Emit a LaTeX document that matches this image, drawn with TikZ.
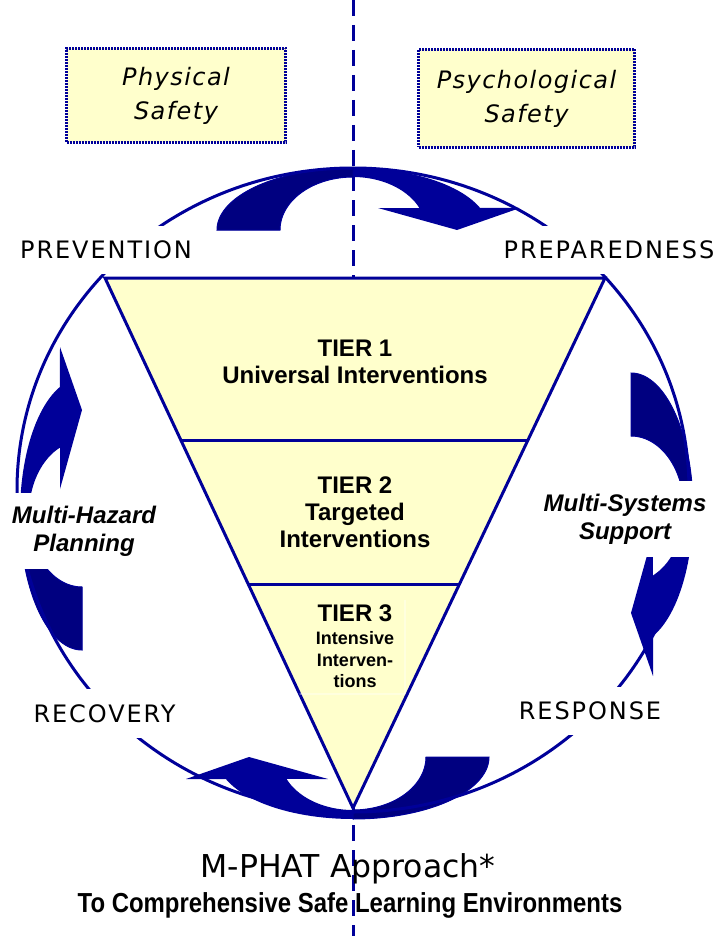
\documentclass[tikz,border=0pt]{standalone}
\usepackage{fontspec}
\setmainfont{DejaVu Sans}
\newfontfamily\spacedfont[LetterSpace=8]{DejaVu Sans}
\newfontfamily\boxfont[LetterSpace=6]{DejaVu Sans}
\newfontfamily\arialfont{Liberation Sans}
\newfontfamily\narrowfont[FakeStretch=0.87]{Liberation Sans}
\usetikzlibrary{calc}

\definecolor{navy}{RGB}{0,0,153}
\definecolor{darknavy}{RGB}{0,0,128}
\definecolor{paleyellow}{RGB}{255,255,204}

\tikzset{
	safetybox/.style={fill=paleyellow, draw=navy, line width=3pt, dash pattern=on 2pt off 1pt, align=center, font=\boxfont\itshape\fontsize{24}{34}\selectfont},
	cyclelabel/.style={fill=white, inner xsep=2pt, inner ysep=15pt, font=\spacedfont\fontsize{24}{24}\selectfont},
	tiertext/.style={align=center, font=\arialfont\bfseries\fontsize{24}{27}\selectfont},
	supporttext/.style={fill=white, align=center, inner xsep=4pt, inner ysep=13pt, font=\arialfont\bfseries\itshape\fontsize{24}{28}\selectfont},
	navyline/.style={draw=navy, line width=3pt}
}

% one curved block arrow, foot on the left, head on the right
\newcommand{\cyclearrow}{%
	\fill[navy] (-136,0) -- plot[domain=180:20.8, samples=60, variable=\ang] ({136*cos(\ang)},{-62*sin(\ang)})
		-- (167,-22) -- (104,0) -- (25,-22)
		-- plot[domain=24.5:180, samples=60, variable=\ang] ({73*cos(\ang)},{-53*sin(\ang)}) -- cycle;
	\filldraw[fill=darknavy, draw=navy, line width=1pt] plot[domain=180:90, samples=40, variable=\ang] ({136*cos(\ang)},{-62*sin(\ang)})
		-- plot[domain=90:180, samples=40, variable=\ang] ({73*cos(\ang)},{-53*sin(\ang)}) -- cycle;
}

\begin{document}
\begin{tikzpicture}[x=1pt, y=-1pt]
	\useasboundingbox (0,0) rectangle (721,936);

	% axis
	\coordinate (axtop) at (353,0);
	\coordinate (axbot) at (353,936);
	\draw[navy, line width=3pt, dash pattern=on 16pt off 9pt] (axtop) -- (axbot);

	% the four arrows round the cycle
	\foreach \ax/\ay/\turn in {353/230/0, 631/509/-90, 353/757/180, 82/514/90}
	{
		\begin{scope}[shift={(\ax,\ay)}, rotate=\turn]
			\cyclearrow
		\end{scope}
	}
	\draw[navyline] (353,490) ellipse [x radius=336, y radius=322];

	% tiers
	\coordinate (tl) at (105,278);
	\coordinate (tr) at (605,278);
	\coordinate (tb) at (353,808);
	\filldraw[navyline, fill=paleyellow] (tl) -- (tr) -- (tb) -- cycle;
	\draw[navyline] ($(tl)!0.306!(tb)$) -- ($(tr)!0.306!(tb)$);
	\draw[navyline] ($(tl)!0.579!(tb)$) -- ($(tr)!0.579!(tb)$);
	\draw[white, line width=0.8pt] ($(tl)!0.785!(tb)$) -- (405,694) -- (405,600);

	\node[tiertext] (tier1) at (355,362) {TIER 1\\Universal Interventions};
	\node[tiertext] (tier2) at (355,512) {TIER 2\\Targeted\\Interventions};
	\node[tiertext] (tier3) at (355,613.5) {TIER 3};
	\node[tiertext, font=\arialfont\bfseries\fontsize{18}{21.5}\selectfont] (tier3sub) at (355,660) {Intensive\\Interven-\\tions};

	% phases
	\node[cyclelabel] (prevention) at (106,250) {PREVENTION};
	\node[cyclelabel] (preparedness) at (609,250) {PREPAREDNESS};
	\node[cyclelabel] (recovery) at (104.5,713.5) {RECOVERY};
	\node[cyclelabel] (response) at (590,711) {RESPONSE};
	\node[supporttext] (hazard) at (84,531) {Multi-Hazard\\Planning};
	\node[supporttext] (systems) at (625,519) {Multi-Systems\\Support};

	% safety boxes
	\node[safetybox, minimum width=219pt, minimum height=94pt] (physical) at (176,95.5) {Physical\\Safety};
	\node[safetybox, minimum width=216pt, minimum height=98pt] (psychological) at (526.5,98.5) {Psychological\\Safety};

	% title
	\node[font=\fontsize{31.5}{31.5}\selectfont] (title) at (348,869) {M-PHAT Approach*};
	\node[font=\narrowfont\bfseries\fontsize{27.5}{27.5}\selectfont] (subtitle) at (350,905) {To Comprehensive Safe Learning Environments};
\end{tikzpicture}
\end{document}
